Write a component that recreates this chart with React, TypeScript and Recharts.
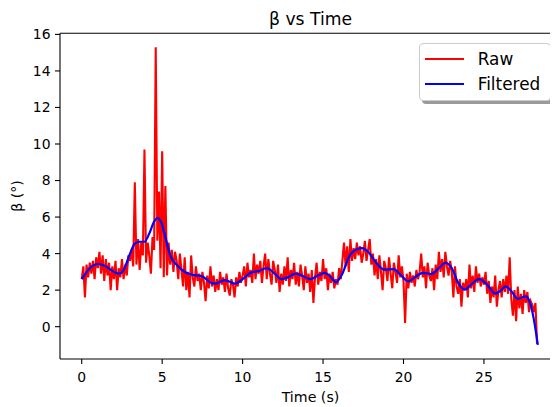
import React from 'react';
import { LineChart, Line, XAxis, YAxis, ReferenceLine } from 'recharts';

// raw β samples, one every 0.1 s starting at t = 0
const RAW_STEP = 0.1;
const RAW_BETA = [
  2.6, 3.3, 1.6, 3.4, 2.7, 3.5, 2.9, 3.6, 2.6, 3.8,
  3.2, 4.1, 2.9, 3.9, 2.5, 3.7, 2.8, 3.5, 2.0, 3.3,
  2.6, 3.6, 2.0, 3.2, 2.7, 3.7, 2.6, 3.4, 2.8, 3.9,
  3.6, 4.2, 3.3, 7.9, 3.4, 4.8, 3.1, 4.6, 3.9, 9.7,
  3.5, 4.6, 3.9, 2.9, 4.9, 4.2, 15.3, 4.7, 7.4, 3.2,
  9.6, 2.7, 7.7, 2.8, 4.6, 3.4, 4.2, 3.0, 4.1, 3.6,
  2.6, 4.0, 3.1, 2.2, 3.8, 2.0, 3.0, 1.6, 3.9, 2.7,
  2.2, 3.3, 2.5, 2.9, 2.0, 3.0, 2.4, 1.4, 2.8, 2.1,
  3.3, 2.2, 2.8, 1.9, 2.6, 2.0, 3.0, 2.3, 2.7, 1.9,
  2.9, 2.1, 1.7, 2.6, 2.3, 1.6, 2.7, 2.2, 3.0, 2.4,
  2.8, 3.3, 2.2, 3.5, 2.7, 3.1, 2.4, 4.0, 2.6, 3.4,
  2.9, 3.6, 2.4, 3.3, 4.0, 2.6, 3.7, 2.9, 2.3, 3.6,
  3.1, 2.4, 3.4, 1.9, 2.9, 2.3, 3.3, 2.5, 3.8, 2.2,
  3.1, 2.6, 3.5, 2.3, 3.0, 2.2, 3.4, 2.8, 2.0, 3.3,
  2.4, 2.9, 1.9, 3.1, 1.3, 2.7, 3.5, 2.3, 3.0, 2.5,
  3.7, 2.6, 3.2, 2.0, 2.9, 2.4, 3.0, 2.1, 2.6, 2.3,
  3.2, 2.6, 3.6, 4.6, 3.3, 4.4, 3.0, 4.8, 3.6, 4.3,
  3.7, 4.6, 3.9, 4.4, 3.5, 4.0, 4.7, 3.6, 4.2, 4.8,
  3.4, 4.0, 2.8, 3.7, 2.6, 3.9, 3.0, 2.0, 3.6, 3.2,
  2.5, 3.8, 2.9, 2.1, 3.5, 3.0, 2.4, 3.9, 2.7, 3.3,
  2.5, 0.2, 2.9, 2.1, 3.0, 2.4, 2.8, 2.2, 3.1, 2.6,
  3.0, 4.0, 2.7, 3.3, 2.1, 3.5, 2.8, 2.5, 3.2, 2.0,
  3.4, 2.6, 4.1, 3.0, 3.7, 2.7, 4.1, 3.3, 2.8, 3.6,
  3.0, 1.6, 3.3, 2.2, 1.8, 2.6, 1.1, 2.4, 2.0, 2.6,
  1.6, 3.4, 2.1, 2.8, 1.9, 3.3, 2.4, 2.9, 2.2, 2.7,
  2.3, 3.0, 1.8, 2.5, 1.3, 2.2, 1.6, 2.8, 1.1, 2.0,
  2.5, 1.6, 2.6, 1.9, 2.8, 1.8, 3.8, 1.5, 0.6, 2.0,
  0.3, 2.2, 1.0, 1.8, 0.7, 2.0, 1.3, 1.9, 0.8, 1.4,
  1.2, 0.8, 1.3, -0.95,
];

// low-pass filtered β
const FILT_TIME = [
  0.0, 0.5, 1.0, 1.5, 2.0, 2.3, 2.6, 3.0, 3.3, 3.6, 3.9, 4.2, 4.5, 4.7, 4.9,
  5.2, 5.5, 6.0, 6.5, 7.0, 7.5, 8.0, 8.3, 8.9, 9.5, 10.0, 10.5, 11.0, 11.5,
  12.0, 12.4, 12.8, 13.3, 13.8, 14.2, 14.7, 15.1, 15.5, 15.8, 16.2, 16.6,
  17.0, 17.4, 17.8, 18.3, 18.8, 19.4, 19.8, 20.3, 20.7, 21.2, 21.7, 22.2,
  22.6, 23.0, 23.4, 23.8, 24.2, 24.7, 25.2, 25.7, 26.0, 26.35, 26.7, 27.1,
  27.6, 27.9, 28.1, 28.35,
];
const FILT_BETA = [
  2.6, 3.2, 3.43, 3.3, 3.0, 2.9, 3.1, 4.0, 4.55, 4.65, 4.65, 5.1, 5.75, 5.95, 5.8,
  4.9, 3.9, 3.3, 2.95, 2.82, 2.75, 2.42, 2.36, 2.55, 2.36, 2.6, 2.95, 3.05, 3.2,
  2.9, 2.6, 2.7, 2.9, 2.75, 2.6, 2.8, 2.95, 2.7, 2.43, 2.9, 3.8,
  4.2, 4.3, 4.1, 3.5, 3.12, 3.15, 2.85, 2.48, 2.7, 2.95, 2.88, 3.2,
  3.5, 3.2, 2.4, 2.03, 2.3, 2.6, 2.3, 1.81, 1.95, 2.21, 1.95, 1.52,
  1.66, 1.2, 0.4, -1.0,
];

const X_DOMAIN = [-1.35, 29.77];
const Y_DOMAIN = [-1.77, 16.06];
const X_TICKS = [0, 5, 10, 15, 20, 25];
const Y_TICKS = [0, 2, 4, 6, 8, 10, 12, 14, 16];
const LEGEND_ITEMS = [
  { name: 'Raw', color: '#ff0000' },
  { name: 'Filtered', color: '#0000ff' },
];

const rawData = RAW_BETA.map((b, i) => ({ t: Math.round(i * RAW_STEP * 100) / 100, b }));
const filtData = FILT_TIME.map((t, i) => ({ t, b: FILT_BETA[i] }));

const FONT = '"DejaVu Sans", sans-serif';
const tickStyle = { fontFamily: FONT, fontSize: 13.9, fill: '#000' };

export default function App() {
  return (
    <div style={{ position: 'relative', width: 550, height: 399, overflow: 'hidden', fontFamily: FONT }}>
      <LineChart
        width={560}
        height={399}
        margin={{ top: 25.3, right: 7.3, bottom: 18, left: 0 }}
      >
        <XAxis
          dataKey="t"
          type="number"
          domain={X_DOMAIN}
          ticks={X_TICKS}
          allowDataOverflow
          height={30}
          tick={tickStyle}
          tickSize={5}
          tickMargin={7.8}
          axisLine={{ stroke: '#000', strokeWidth: 1.1 }}
          tickLine={{ stroke: '#000', strokeWidth: 1.1 }}
        />
        <YAxis
          type="number"
          domain={Y_DOMAIN}
          ticks={Y_TICKS}
          allowDataOverflow
          width={52}
          tick={tickStyle}
          tickSize={5}
          tickMargin={4.5}
          axisLine={{ stroke: '#000', strokeWidth: 1.1 }}
          tickLine={{ stroke: '#000', strokeWidth: 1.1 }}
        />
        {/* top spine */}
        <ReferenceLine y={Y_DOMAIN[1]} stroke="#000" strokeWidth={1.1} ifOverflow="visible" />
        <Line
          data={rawData}
          dataKey="b"
          type="linear"
          stroke="#ff0000"
          strokeWidth={2.1}
          dot={false}
          isAnimationActive={false}
        />
        <Line
          data={filtData}
          dataKey="b"
          type="monotone"
          stroke="#0000ff"
          strokeWidth={2.2}
          dot={false}
          isAnimationActive={false}
        />
      </LineChart>

      {/* title and axis labels */}
      <svg width={550} height={399} style={{ position: 'absolute', left: 0, top: 0, pointerEvents: 'none' }}>
        <text x={302.5} y={17} textAnchor="middle" fontFamily={FONT} fontSize={17.2} fill="#000">
          β vs Time
        </text>
        <text x={302.5} y={393.7} textAnchor="middle" fontFamily={FONT} fontSize={14.2} fill="#000">
          Time (s)
        </text>
        <text transform="translate(14.2,188) rotate(-90)" textAnchor="middle" fontFamily={FONT} fontSize={14.2} fill="#000">
          β (°)
        </text>
      </svg>

      {/* legend */}
      <div
        style={{
          position: 'absolute',
          left: 411.4,
          top: 35.3,
          width: 130,
          height: 56,
          border: '1px solid #cccccc',
          borderRadius: 4,
          background: '#fff',
          boxShadow: '3px 3px 0 #9a9a9a',
        }}
      >
        {LEGEND_ITEMS.map((item, i) => (
          <div
            key={item.name}
            style={{ position: 'absolute', left: 5, top: 14.4 + i * 25.6 - 12, height: 24, display: 'flex', alignItems: 'center' }}
          >
            <div style={{ width: 38.3, height: 2, background: item.color }} />
            <span style={{ marginLeft: 14, fontSize: 16.9, color: '#000', lineHeight: '24px' }}>{item.name}</span>
          </div>
        ))}
      </div>
    </div>
  );
}
